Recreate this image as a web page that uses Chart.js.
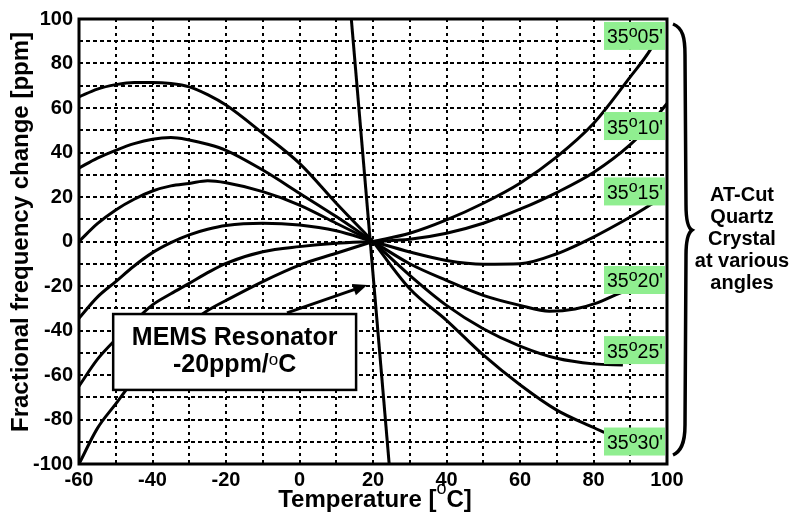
<!DOCTYPE html>
<html>
<head>
<meta charset="utf-8">
<script src="https://cdn.jsdelivr.net/npm/chart.js@4"></script>
<style>
  html, body { margin: 0; padding: 0; background: #fff; }
  #freqChart { display: block; }
</style>
</head>
<body>
<canvas id="freqChart" width="795" height="514"></canvas>
<script>
'use strict';

// left branches all share the same temperatures (deg C)
var tempLeft  = [-60, -55, -50, -45, -40, -35, -30, -25, -20, -10, 0, 10, 20];
var ppm05Left = [65, 68.5, 70.5, 71.5, 71.5, 71, 69.5, 66, 61.3, 48.6, 35.1, 17.2, 0];
var ppm10Left = [33, 37.5, 41, 44, 46, 46.7, 45.6, 43.7, 41, 32.1, 21.7, 11.2, 0];
var ppm15Left = [0, 8, 14.2, 19, 22.7, 25, 26.1, 27.3, 26.4, 22.4, 16.4, 8.2, 0];
var ppm20Left = [-34.5, -25, -18, -11, -5, -0.5, 3, 5.5, 7.2, 8.2, 7.4, 4.8, 0];
var ppm25Left = [-65, -53, -44, -36, -28.5, -23.5, -18.8, -14, -9.8, -4.6, -2.3, -0.8, 0];
var ppm30Left = [-100, -84, -73, -62, -53, -45, -37, -31, -26.5, -18, -10.6, -5.3, 0];

// right branches end at different temperatures
var temp05Right = [20, 30, 40, 50, 60, 70, 80, 90, 95.4, 98];
var ppm05Right  = [0, 3.7, 9.7, 17.2, 26.2, 38, 53, 74, 86, 94];
var temp10Right = [20, 30, 40, 50, 60, 70, 80, 90, 95, 100];
var ppm10Right  = [0, 1, 3.7, 8.2, 14.5, 22, 31, 43.5, 52, 62];
var temp15Right = [20, 30, 40, 50, 60, 70, 80, 90, 96];
var ppm15Right  = [0, -4.7, -8.5, -10.2, -10, -5.5, 2, 11, 17];
var temp20Right = [20, 30, 40, 50, 60, 68, 75, 81, 86, 91, 95];
var ppm20Right  = [0, -10, -17.5, -24.2, -28.7, -31.3, -30.3, -27.6, -24, -20.9, -18.5];
var temp25Right = [20, 30, 40, 50, 60, 70, 80, 88];
var ppm25Right  = [0, -15.2, -28.7, -39.2, -47, -52.5, -55, -55.5];
var temp30Right = [20, 30, 40, 50, 60, 70, 80, 83];
var ppm30Right  = [0, -21.2, -35.4, -51, -64.4, -75.8, -83.6, -85.8];

// MEMS resonator, about -20 ppm/C
var tempMems = [14.1, 24.4];
var ppmMems  = [100, -100];

var angleLabels = ["35°05'", "35°10'", "35°15'", "35°20'", "35°25'", "35°30'"];
var tempTicks = [-60, -40, -20, 0, 20, 40, 60, 80, 100];
var ppmTicks  = [-100, -80, -60, -40, -20, 0, 20, 40, 60, 80, 100];

var FONT = 'Arial, "Liberation Sans", sans-serif';

function toPoints(ts, ps) {
    return ts.map(function (t, i) { return {x: t, y: ps[i]}; });
}

var branches = [
    [tempLeft, ppm05Left], [temp05Right, ppm05Right],
    [tempLeft, ppm10Left], [temp10Right, ppm10Right],
    [tempLeft, ppm15Left], [temp15Right, ppm15Right],
    [tempLeft, ppm20Left], [temp20Right, ppm20Right],
    [tempLeft, ppm25Left], [temp25Right, ppm25Right],
    [tempLeft, ppm30Left], [temp30Right, ppm30Right],
    [tempMems, ppmMems]
];

var datasets = branches.map(function (b) {
    return {
        data: toPoints(b[0], b[1]),
        borderColor: '#000',
        borderWidth: 3,
        pointRadius: 0,
        fill: false,
        cubicInterpolationMode: 'monotone'
    };
});

// draws a row of text pieces, some of them raised (superscript)
function drawRuns(c, runs, x, y, align) {
    var total = 0;
    runs.forEach(function (r) {
        c.font = r.font;
        r.w = c.measureText(r.text).width;
        total += r.w;
    });
    var cx = align === 'center' ? x - total / 2 : x;
    c.textAlign = 'left';
    c.textBaseline = 'alphabetic';
    runs.forEach(function (r) {
        c.font = r.font;
        c.fillText(r.text, cx, y + (r.dy || 0));
        cx += r.w;
    });
}

var decorations = {
    id: 'decorations',
    afterDatasetsDraw: function (chart) {
        var c = chart.ctx;
        var a = chart.chartArea;
        var xs = chart.scales.x;
        var ys = chart.scales.y;
        c.save();
        c.fillStyle = '#000';
        c.strokeStyle = '#000';

        // plot frame
        c.lineWidth = 3;
        c.strokeRect(a.left, a.top, a.right - a.left, a.bottom - a.top);

        // MEMS box
        var bx1 = xs.getPixelForValue(-50.7), bx2 = xs.getPixelForValue(15.4);
        var by1 = ys.getPixelForValue(-32.6), by2 = ys.getPixelForValue(-66.7);
        c.fillStyle = '#fff';
        c.fillRect(bx1, by1, bx2 - bx1, by2 - by1);
        c.lineWidth = 2.5;
        c.strokeRect(bx1, by1, bx2 - bx1, by2 - by1);
        c.fillStyle = '#000';
        var bcx = (bx1 + bx2) / 2;
        drawRuns(c, [{text: 'MEMS Resonator', font: 'bold 25px ' + FONT}], bcx, by1 + 31, 'center');
        drawRuns(c, [
            {text: '-20ppm/', font: 'bold 25px ' + FONT},
            {text: 'o', font: '17px ' + FONT, dy: -7},
            {text: 'C', font: 'bold 25px ' + FONT}
        ], bcx, by1 + 58, 'center');

        // arrow from the box to the crossing point
        var ax1 = xs.getPixelForValue(-3.4), ay1 = ys.getPixelForValue(-32.1);
        var ax2 = xs.getPixelForValue(18.4), ay2 = ys.getPixelForValue(-19.6);
        var ang = Math.atan2(ay2 - ay1, ax2 - ax1);
        c.lineWidth = 3;
        c.beginPath();
        c.moveTo(ax1, ay1);
        c.lineTo(ax2 - 10 * Math.cos(ang), ay2 - 10 * Math.sin(ang));
        c.stroke();
        c.beginPath();
        c.moveTo(ax2, ay2);
        c.lineTo(ax2 - 14 * Math.cos(ang) + 6 * Math.sin(ang), ay2 - 14 * Math.sin(ang) - 6 * Math.cos(ang));
        c.lineTo(ax2 - 14 * Math.cos(ang) - 6 * Math.sin(ang), ay2 - 14 * Math.sin(ang) + 6 * Math.cos(ang));
        c.closePath();
        c.fill();

        // green angle tags
        var labelCentre = [92.4, 51.9, 22.5, -17.3, -48.8, -89.9];
        angleLabels.forEach(function (lab, i) {
            var cy = ys.getPixelForValue(labelCentre[i]);
            var lx = a.right - 63;
            c.fillStyle = '#90ee90';
            c.fillRect(lx, cy - 14, 61, 28);
            c.fillStyle = '#000';
            var parts = lab.split('°');
            drawRuns(c, [
                {text: parts[0], font: '19.5px ' + FONT},
                {text: 'o', font: '16px ' + FONT, dy: -6.5},
                {text: parts[1], font: '19.5px ' + FONT}
            ], lx + 3, cy + 7.5, 'left');
        });

        // curly brace on the right
        var r = a.right;
        c.lineWidth = 3.5;
        c.beginPath();
        c.moveTo(r + 6, 24);
        c.bezierCurveTo(r + 16, 28, r + 18, 38, r + 18, 55);
        c.lineTo(r + 19, 205);
        c.bezierCurveTo(r + 19, 220, r + 21, 228, r + 25, 230);
        c.bezierCurveTo(r + 21, 233, r + 19, 240, r + 19, 255);
        c.lineTo(r + 18, 425);
        c.bezierCurveTo(r + 18, 445, r + 13, 452, r + 6, 455);
        c.stroke();

        // side note
        c.font = 'bold 20px ' + FONT;
        c.textAlign = 'center';
        c.textBaseline = 'alphabetic';
        ['AT-Cut', 'Quartz', 'Crystal', 'at various', 'angles'].forEach(function (s, i) {
            c.fillText(s, 742, 201 + 22 * i);
        });

        // axis titles
        c.save();
        c.translate(28, 232);
        c.rotate(-Math.PI / 2);
        c.font = 'bold 24px ' + FONT;
        c.textAlign = 'center';
        c.fillText('Fractional frequency change [ppm]', 0, 0);
        c.restore();

        drawRuns(c, [
            {text: 'Temperature [', font: 'bold 24px ' + FONT},
            {text: 'o', font: '18px ' + FONT, dy: -13},
            {text: 'C]', font: 'bold 24px ' + FONT}
        ], 375, 507, 'center');

        c.restore();
    }
};

var tickFont = {family: FONT, size: 20, weight: 'bold'};

var freqChart = new Chart(document.getElementById('freqChart'), {
    type: 'line',
    data: {datasets: datasets},
    options: {
        responsive: false,
        animation: false,
        devicePixelRatio: 1,
        layout: {padding: {top: 19, right: 128, left: 0, bottom: 0}},
        plugins: {legend: {display: false}, tooltip: {enabled: false}},
        scales: {
            x: {
                type: 'linear',
                min: -60,
                max: 100,
                ticks: {
                    stepSize: 10,
                    autoSkip: false,
                    maxRotation: 0,
                    padding: 4,
                    color: '#000',
                    font: tickFont,
                    callback: function (v) { return tempTicks.indexOf(v) >= 0 ? String(v) : ''; }
                },
                grid: {color: '#000', lineWidth: 2, drawTicks: false},
                border: {display: false, dash: [3, 4]},
                afterFit: function (s) { s.height = 50; }
            },
            y: {
                min: -100,
                max: 100,
                ticks: {
                    stepSize: 10,
                    autoSkip: false,
                    padding: 6,
                    color: '#000',
                    font: tickFont,
                    callback: function (v) { return ppmTicks.indexOf(v) >= 0 ? String(v) : ''; }
                },
                grid: {color: '#000', lineWidth: 2, drawTicks: false},
                border: {display: false, dash: [4, 3]},
                afterFit: function (s) { s.width = 79; }
            }
        }
    },
    plugins: [decorations]
});
</script>
</body>
</html>
